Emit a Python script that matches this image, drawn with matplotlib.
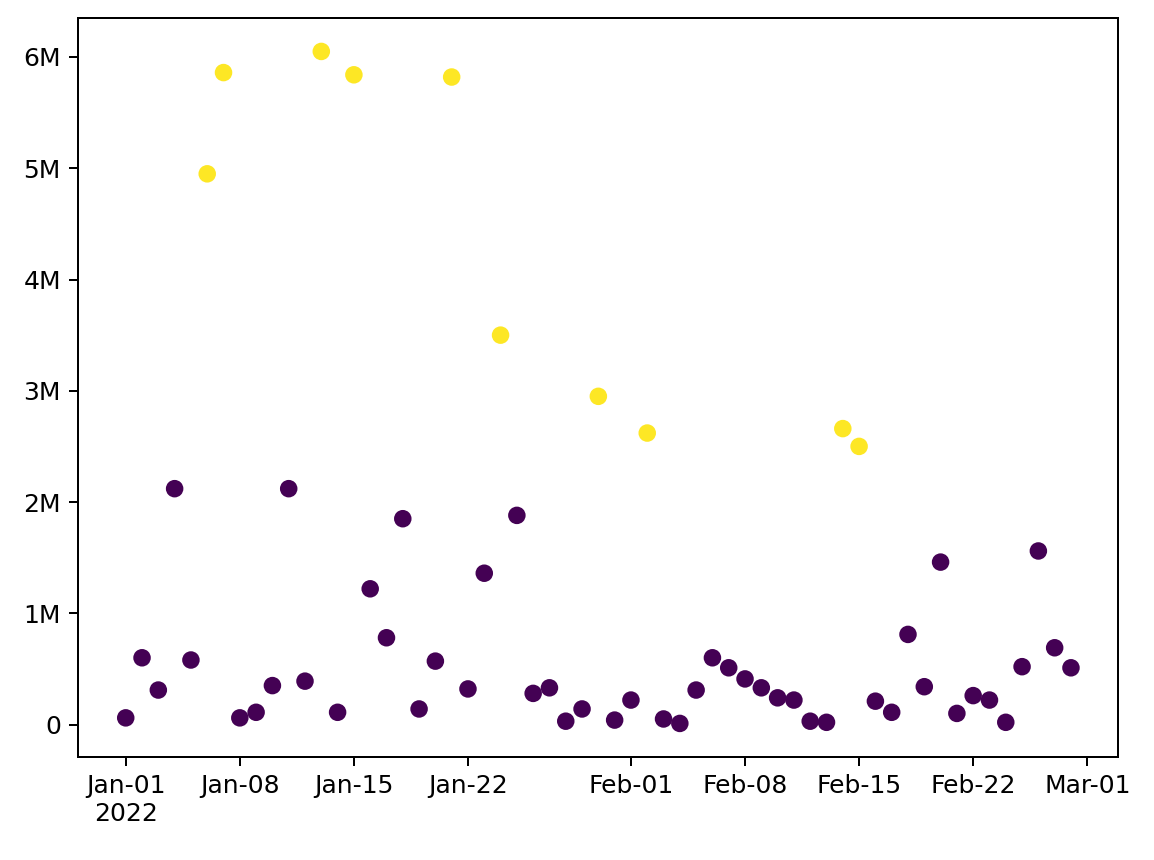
import matplotlib
matplotlib.use("Agg")
import matplotlib.pyplot as plt
import matplotlib.dates as mdates
from matplotlib.ticker import FuncFormatter
import numpy as np
import pandas as pd

dates = pd.date_range("2022-01-01", "2022-02-28", freq="D")
values = [
    0.06, 0.60, 0.31, 2.12, 0.58, 4.95, 5.86, 0.06, 0.11, 0.35,
    2.12, 0.39, 6.05, 0.11, 5.84, 1.22, 0.78, 1.85, 0.14, 0.57,
    5.82, 0.32, 1.36, 3.50, 1.88, 0.28, 0.33, 0.03, 0.14, 2.95,
    0.04, 0.22, 2.62, 0.05, 0.01, 0.31, 0.60, 0.51, 0.41, 0.33,
    0.24, 0.22, 0.03, 0.02, 2.66, 2.50, 0.21, 0.11, 0.81, 0.34,
    1.46, 0.10, 0.26, 0.22, 0.02, 0.52, 1.56, 0.69, 0.51,
]
values = np.array(values) * 1e6
high = [v >= 2.4e6 for v in values]

fig, ax = plt.subplots(figsize=(1154 / 180, 860 / 180), dpi=180)
ax.scatter(dates, values, c=np.array(high, dtype=float), cmap="viridis", vmin=0, vmax=1)

ax.xaxis.set_major_locator(mdates.DayLocator(bymonthday=[1, 8, 15, 22]))

def xfmt(x, pos):
    d = mdates.num2date(x)
    s = d.strftime("%b-%d")
    if pos == 0:
        s += "\n" + d.strftime("%Y")
    return s

ax.xaxis.set_major_formatter(FuncFormatter(xfmt))
for lbl in ax.get_xticklabels():
    lbl.set_horizontalalignment("center")

def yfmt(y, pos):
    if y == 0:
        return "0"
    return f"{int(round(y / 1e6))}M"

ax.yaxis.set_major_formatter(FuncFormatter(yfmt))
ax.set_yticks(np.arange(0, 7e6, 1e6))
ax.set_ylim(-0.29e6, 6.35e6)

fig.subplots_adjust(left=0.068, right=0.969, top=0.979, bottom=0.12)
fig.savefig("out.png", dpi=180)
